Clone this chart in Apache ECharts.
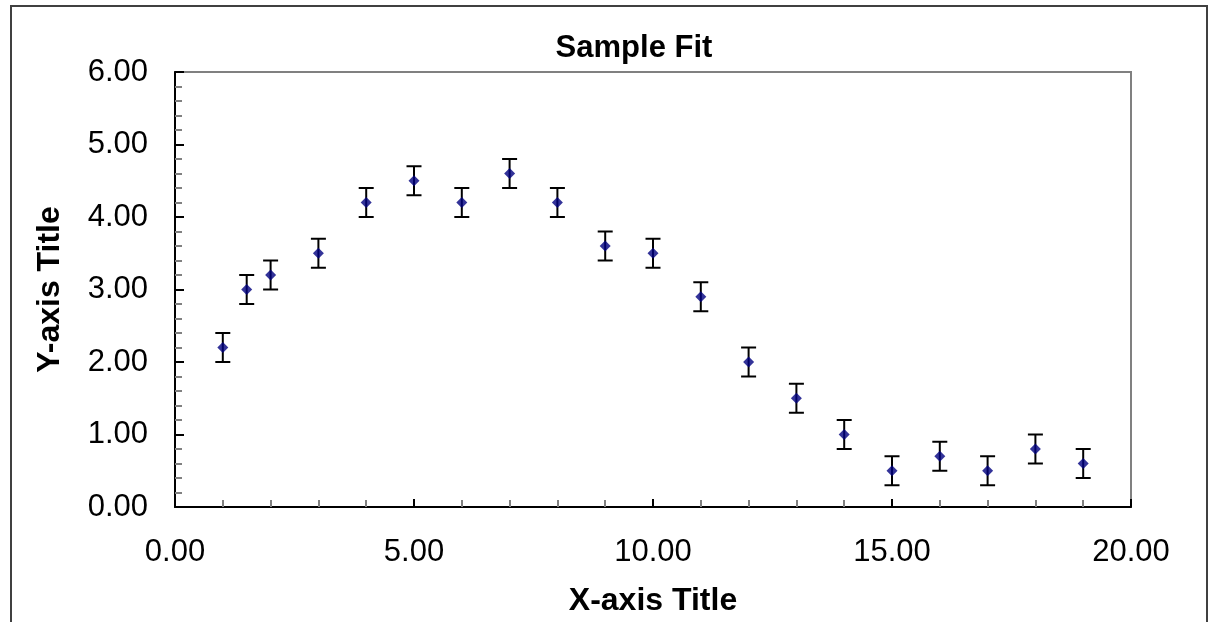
<!DOCTYPE html>
<html>
<head>
<meta charset="utf-8">
<script src="https://cdn.jsdelivr.net/npm/echarts@6/dist/echarts.min.js"></script>
<style>
  html, body { margin: 0; padding: 0; background: #fff; }
  #chart { width: 1212px; height: 622px; }
</style>
</head>
<body>
<div id="chart"></div>
<script>
// data
var xValues = [1, 1.5, 2, 3, 4, 5, 6, 7, 8, 9, 10, 11, 12, 13, 14, 15, 16, 17, 18, 19];
var yValues = [2.2, 3.0, 3.2, 3.5, 4.2, 4.5, 4.2, 4.6, 4.2, 3.6, 3.5, 2.9, 2.0, 1.5, 1.0, 0.5, 0.7, 0.5, 0.8, 0.6];
var errValues = [0.2, 0.2, 0.2, 0.2, 0.2, 0.2, 0.2, 0.2, 0.2, 0.2, 0.2, 0.2, 0.2, 0.2, 0.2, 0.2, 0.2, 0.2, 0.2, 0.2];

var chartTitle = 'Sample Fit';
var xTitle = 'X-axis Title';
var yTitle = 'Y-axis Title';

var FONT = "'Liberation Sans', Arial, sans-serif";

var points = xValues.map(function (x, i) { return [x, yValues[i]]; });
var bars = xValues.map(function (x, i) { return [x, yValues[i] - errValues[i], yValues[i] + errValues[i]]; });

var chart = echarts.init(document.getElementById('chart'));

var option = {
  animation: false,
  backgroundColor: '#fff',
  title: {
    text: chartTitle,
    left: 634,
    textAlign: 'center',
    top: 33,
    padding: 0,
    textStyle: { fontFamily: FONT, fontSize: 31, fontWeight: 'bold', color: '#000' }
  },
  graphic: [
    {
      type: 'rect',
      shape: { x: 11, y: 6, width: 1196, height: 640 },
      style: { fill: 'none', stroke: '#404040', lineWidth: 2 },
      z: 100
    }
  ],
  grid: {
    left: 175, top: 72, right: 81, bottom: 114,
    show: true, borderColor: '#808080', borderWidth: 2, backgroundColor: '#fff'
  },
  xAxis: {
    type: 'value',
    min: 0, max: 20, interval: 5,
    name: xTitle,
    nameLocation: 'middle',
    nameGap: 78,
    nameTextStyle: { fontFamily: FONT, fontSize: 32, fontWeight: 'bold', color: '#000' },
    axisLine: { show: true, onZero: false, lineStyle: { color: '#000', width: 2 } },
    axisTick: { show: true, inside: true, length: 8, lineStyle: { color: '#000', width: 2 } },
    minorTick: { show: true, splitNumber: 5, length: 7, lineStyle: { color: '#808080', width: 2 } },
    splitLine: { show: false },
    axisLabel: {
      margin: 30,
      fontFamily: FONT, fontSize: 31, color: '#000',
      formatter: function (v) { return v.toFixed(2); }
    }
  },
  yAxis: {
    type: 'value',
    min: 0, max: 6, interval: 1,
    name: yTitle,
    nameLocation: 'middle',
    nameGap: 109,
    nameTextStyle: { fontFamily: FONT, fontSize: 32, fontWeight: 'bold', color: '#000' },
    axisLine: { show: true, onZero: false, lineStyle: { color: '#000', width: 2 } },
    axisTick: { show: true, inside: true, length: 9, lineStyle: { color: '#000', width: 2 } },
    minorTick: { show: true, splitNumber: 5, length: 7, lineStyle: { color: '#808080', width: 2 } },
    splitLine: { show: false },
    axisLabel: {
      margin: 27,
      fontFamily: FONT, fontSize: 31, color: '#000',
      formatter: function (v) { return v.toFixed(2); }
    }
  },
  series: [
    {
      type: 'custom',
      name: 'error',
      data: bars,
      z: 2,
      renderItem: function (params, api) {
        var x = api.value(0);
        var lo = api.coord([x, api.value(1)]);
        var hi = api.coord([x, api.value(2)]);
        var cap = 7.5;
        var st = { stroke: '#000', lineWidth: 2 };
        return {
          type: 'group',
          children: [
            { type: 'line', shape: { x1: lo[0], y1: lo[1], x2: hi[0], y2: hi[1] }, style: st },
            { type: 'line', shape: { x1: lo[0] - cap, y1: lo[1], x2: lo[0] + cap, y2: lo[1] }, style: st },
            { type: 'line', shape: { x1: hi[0] - cap, y1: hi[1], x2: hi[0] + cap, y2: hi[1] }, style: st }
          ]
        };
      }
    },
    {
      type: 'scatter',
      name: 'data',
      data: points,
      z: 3,
      symbol: 'diamond',
      symbolSize: [11, 11],
      itemStyle: { color: '#000080' }
    }
  ]
};

chart.setOption(option);
</script>
</body>
</html>
